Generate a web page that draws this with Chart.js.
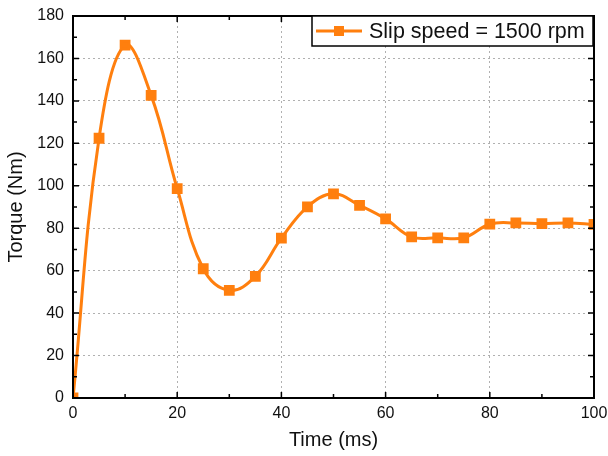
<!DOCTYPE html>
<html>
<head>
<meta charset="utf-8">
<script src="https://cdn.jsdelivr.net/npm/chart.js@4/dist/chart.umd.min.js"></script>
<style>
  html, body { margin: 0; padding: 0; background: #fff; }
  #wrap { width: 608px; height: 456px; }
</style>
</head>
<body>
<div id="wrap"><canvas id="chart" width="608" height="456"></canvas></div>
<script>
const timeMs = [0, 5, 10, 15, 20, 25, 30, 35, 40, 45, 50, 55, 60, 65, 70, 75, 80, 85, 90, 95, 100];
const torqueNm = [0, 122.4, 166.3, 142.6, 98.7, 60.9, 50.7, 57.3, 75.3, 90.1, 96.2, 90.8, 84.4, 75.9, 75.5, 75.5, 81.9, 82.5, 82.2, 82.5, 81.8];
const seriesLabel = "Slip speed = 1500 rpm";
const xTitle = "Time (ms)";
const yTitle = "Torque (Nm)";

const orange = "#ff7f0e";
const fontFamily = "'Liberation Sans', Arial, sans-serif";

// frame, inward ticks and legend box
const framePlugin = {
  id: "frame",
  afterDraw(chart) {
    const ctx = chart.ctx;
    const a = chart.chartArea;
    const xs = chart.scales.x, ys = chart.scales.y;
    ctx.save();
    ctx.strokeStyle = "#000";
    ctx.lineWidth = 2;
    ctx.strokeRect(a.left, a.top, a.right - a.left, a.bottom - a.top);

    ctx.lineWidth = 1.5;
    ctx.beginPath();
    for (let v = 0; v <= 100; v += 10) {
      const px = xs.getPixelForValue(v);
      const len = v % 20 === 0 ? 6 : 4;
      ctx.moveTo(px, a.bottom); ctx.lineTo(px, a.bottom - len);
      ctx.moveTo(px, a.top); ctx.lineTo(px, a.top + len);
    }
    for (let v = 0; v <= 180; v += 10) {
      const py = ys.getPixelForValue(v);
      const len = v % 20 === 0 ? 6 : 4;
      ctx.moveTo(a.left, py); ctx.lineTo(a.left + len, py);
      ctx.moveTo(a.right, py); ctx.lineTo(a.right - len, py);
    }
    ctx.stroke();

    // legend
    const bw = 281, bh = 30;
    const bx = a.right - bw - 1, by = a.top;
    ctx.fillStyle = "#fff";
    ctx.fillRect(bx, by, bw, bh);
    ctx.strokeStyle = "#000";
    ctx.lineWidth = 1.5;
    ctx.strokeRect(bx, by, bw, bh);
    const cy = by + bh / 2;
    ctx.strokeStyle = orange;
    ctx.lineWidth = 3;
    ctx.beginPath();
    ctx.moveTo(bx + 4, cy); ctx.lineTo(bx + 50, cy);
    ctx.stroke();
    ctx.fillStyle = orange;
    ctx.fillRect(bx + 27 - 5, cy - 5, 10, 10);
    ctx.fillStyle = "#111";
    ctx.font = "21.5px " + fontFamily;
    ctx.textBaseline = "middle";
    ctx.textAlign = "left";
    ctx.fillText(seriesLabel, bx + 57, cy + 1);
    ctx.restore();
  }
};

new Chart(document.getElementById("chart").getContext("2d"), {
  type: "line",
  data: {
    labels: timeMs,
    datasets: [{
      label: seriesLabel,
      data: timeMs.map((t, i) => ({ x: t, y: torqueNm[i] })),
      borderColor: orange,
      backgroundColor: orange,
      borderWidth: 3,
      pointStyle: "rect",
      pointRadius: 5.5,
      pointHoverRadius: 5.5,
      tension: 0.4,
      fill: false
    }]
  },
  options: {
    responsive: false,
    animation: false,
    layout: { padding: { top: 16, right: 14, left: 0, bottom: 0 } },
    plugins: {
      legend: { display: false },
      tooltip: { enabled: false }
    },
    scales: {
      x: {
        type: "linear",
        min: 0,
        max: 100,
        ticks: { stepSize: 20, color: "#111", font: { size: 16, family: fontFamily }, padding: 6 },
        grid: {
          drawTicks: false,
          color: ctx => (ctx.tick.value === 0 || ctx.tick.value === 100) ? "rgba(0,0,0,0)" : "#b0b0b0",
          lineWidth: 1
        },
        border: { display: false, dash: [2, 3] },
        title: { display: true, text: xTitle, color: "#111", font: { size: 20, family: fontFamily }, padding: { top: 4 } },
        afterFit(scale) { scale.height = 58; scale.paddingRight = 0; scale.paddingLeft = 0; }
      },
      y: {
        min: 0,
        max: 180,
        ticks: { stepSize: 20, color: "#111", font: { size: 16, family: fontFamily }, padding: 9 },
        grid: {
          drawTicks: false,
          color: ctx => (ctx.tick.value === 0 || ctx.tick.value === 180) ? "rgba(0,0,0,0)" : "#b0b0b0",
          lineWidth: 1
        },
        border: { display: false, dash: [2, 3] },
        title: { display: true, text: yTitle, color: "#111", font: { size: 20, family: fontFamily }, padding: { top: 4, bottom: 2 } },
        afterFit(scale) { scale.width = 73; scale.paddingTop = 0; scale.paddingBottom = 0; }
      }
    }
  },
  plugins: [framePlugin]
});
</script>
</body>
</html>
